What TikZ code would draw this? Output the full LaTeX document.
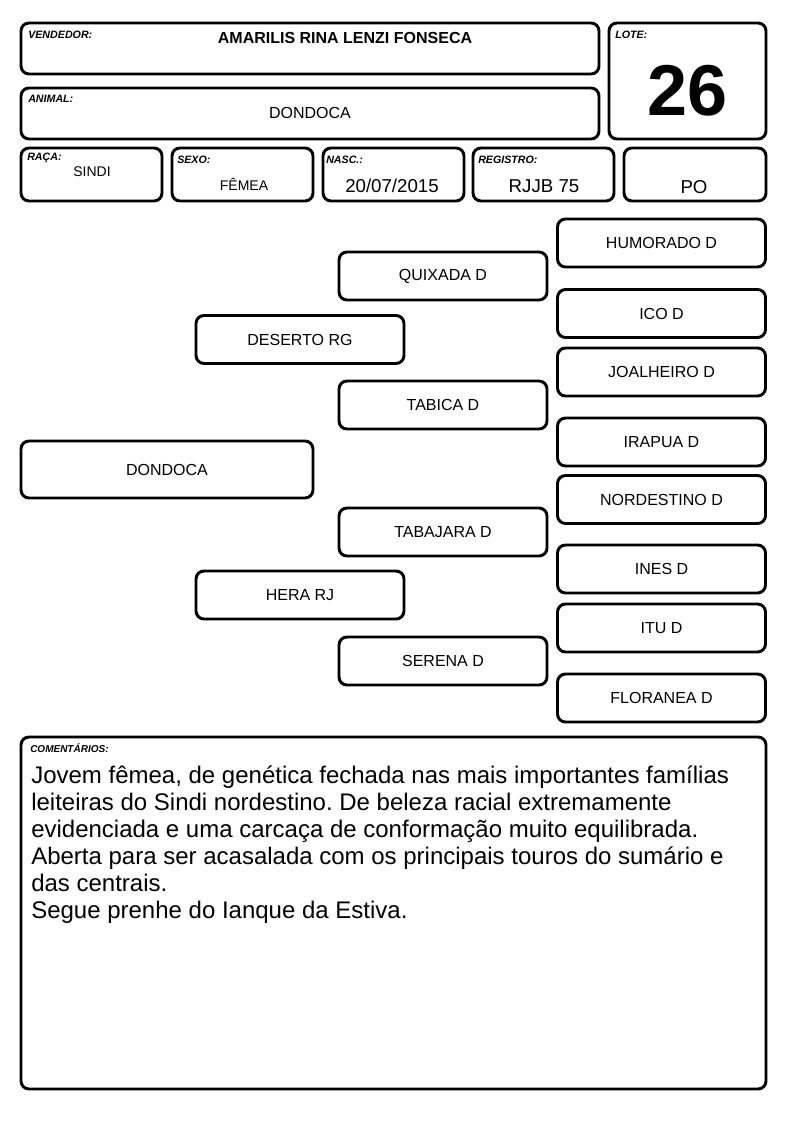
\documentclass[tikz,border=0pt]{standalone}
\usepackage{fontspec}
\setmainfont{Liberation Sans}
\usetikzlibrary{positioning}
\frenchspacing
\tikzset{
  card/.style={line width=2.2pt,rounded corners=6pt},
  tag/.style={anchor=west,inner sep=0pt,font=\fontsize{8}{9}\selectfont\bfseries\itshape},
  field/.style={inner sep=0pt,font=\fontsize{14}{16}\selectfont},
  animal/.style={draw,line width=2.2pt,rounded corners=6pt,inner sep=0pt,
    minimum width=156pt,minimum height=36pt,font=\fontsize{12}{14}\selectfont}
}
\begin{document}
\begin{tikzpicture}[x=0.75pt,y=-0.75pt]
\useasboundingbox(0,0)rectangle(794,1123);
%header
\draw[card](21,23)rectangle(599,74);
\draw[card](21,88)rectangle(599,139);
\draw[card](609,23)rectangle(766,139);
\draw[card](21,148)rectangle(162,201);
\draw[card](172,148)rectangle(313,201);
\draw[card](323,148)rectangle(464,201);
\draw[card](473,148)rectangle(614,201);
\draw[card](624,148)rectangle(766,201);
\node[tag](vendtag)at(28,35){VENDEDOR:};
\node[field,font=\fontsize{12}{14}\selectfont\bfseries](vend)at(345,38){AMARILIS RINA LENZI FONSECA};
\node[tag](animtag)at(28,99){ANIMAL:};
\node[field,font=\fontsize{12}{14}\selectfont](anim)at(310,113){DONDOCA};
\node[tag](lotetag)at(615,35){LOTE:};
\node[field,font=\fontsize{54}{60}\selectfont\bfseries](lote)at(688,91){26};
\node[tag](racatag)at(27,158){RAÇA:};
\node[field,font=\fontsize{10.5}{12}\selectfont](raca)at(92,172){SINDI};
\node[tag](sexotag)at(177,160){SEXO:};
\node[field,font=\fontsize{10.5}{12}\selectfont](sexo)at(244,184){FÊMEA};
\node[tag](nasctag)at(326,160){NASC.:};
\node[field](nasc)at(392,186){20/07/2015};
\node[tag](regtag)at(478,160){REGISTRO:};
\node[field](reg)at(544,186){RJJB 75};
\node[field](po)at(694,187){PO};
%pedigree
\node[animal,minimum width=219pt,minimum height=42.75pt](dondoca)at(167,469.5){DONDOCA};
\node[animal](deserto)at(300,339.5){DESERTO RG};
\node[animal](hera)at(300,595){HERA RJ};
\node[animal](quixada)at(443,276){QUIXADA D};
\node[animal](tabica)at(443,405){TABICA D};
\node[animal](tabajara)at(443,532){TABAJARA D};
\node[animal](serena)at(443,661){SERENA D};
\node[animal](humorado)at(661.5,243){HUMORADO D};
\node[animal](ico)at(661.5,313.5){ICO D};
\node[animal](joalheiro)at(661.5,372){JOALHEIRO D};
\node[animal](irapua)at(661.5,442){IRAPUA D};
\node[animal](nordestino)at(661.5,499.5){NORDESTINO D};
\node[animal](ines)at(661.5,569){INES D};
\node[animal](itu)at(661.5,628){ITU D};
\node[animal](floranea)at(661.5,698){FLORANEA D};
%comments
\draw[card](21,737)rectangle(766,1089);
\node[tag,font=\fontsize{7.5}{9}\selectfont\bfseries\itshape](comtag)at(30,748){COMENTÁRIOS:};
\node[anchor=north west,inner sep=0pt,align=left,font=\fontsize{18}{20.25}\selectfont](com)at(31,766){%
Jovem fêmea, de genética fechada nas mais importantes famílias\\
leiteiras do Sindi nordestino. De beleza racial extremamente\\
evidenciada e uma carcaça de conformação muito equilibrada.\\
Aberta para ser acasalada com os principais touros do sumário e\\
das centrais.\\
Segue prenhe do Ianque da Estiva.};
\end{tikzpicture}
\end{document}
